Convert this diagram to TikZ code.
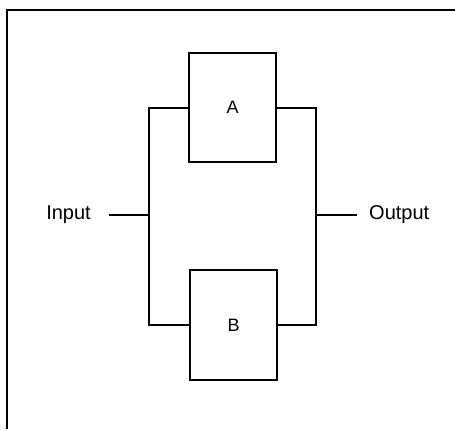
\documentclass[tikz,border=0pt]{standalone}
\usepackage{fontspec}
\setmainfont{Liberation Sans}
\begin{document}
\begin{tikzpicture}[x=1pt,y=-1pt,
  wire/.style={line width=2pt,line join=miter},
  blockbox/.style={draw,line width=2pt,minimum width=87pt,minimum height=109pt,inner sep=0pt,font=\fontsize{18}{18}\selectfont},
  portlabel/.style={inner ysep=0pt,font=\fontsize{20}{20}\selectfont}]
  \useasboundingbox (0,0) rectangle (455,429);
  % frame (left and top edges)
  \draw[line width=2pt] (7,429) -- (7,9.5) -- (455,9.5);
  % the two parallel blocks
  \node[blockbox] (A) at (232.5,107.5) {A};
  \node[blockbox,minimum height=110pt] (B) at (233.5,325) {B};
  % terminals
  \node[portlabel,anchor=east,inner xsep=18pt] (in) at (109,215) {Input};
  \node[portlabel,anchor=west,inner xsep=12pt] (out) at (357,215) {Output};
  \coordinate (jl) at (148.5,215);
  \coordinate (jr) at (316,215);
  % wiring
  \draw[wire] (in.east) -- (jl);
  \draw[wire] (A.west) -| (jl) |- (B.west);
  \draw[wire] (A.east) -| (jr) |- (B.east);
  \draw[wire] (jr) -- (out.west);
\end{tikzpicture}
\end{document}
